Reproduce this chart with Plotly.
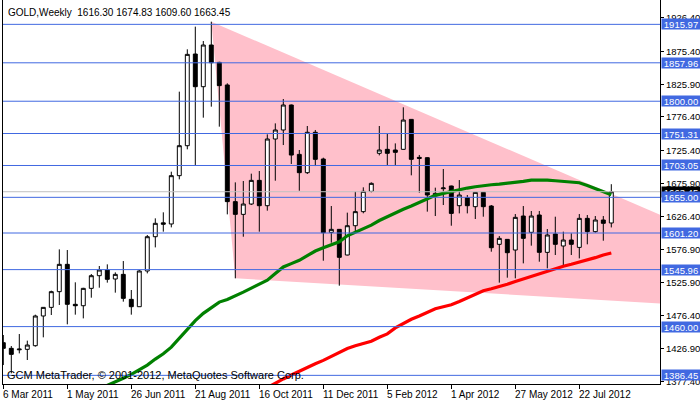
import pandas as pd
import plotly.graph_objects as go

# ---------------- data ----------------
symbol_title = "GOLD,Weekly  1616.30 1674.83 1609.60 1663.45"
copyright_text = "GCM MetaTrader, © 2001-2012, MetaQuotes Software Corp."

first_bar = "2011-03-06"

opens = [1435.7, 1427.2, 1425.0, 1425.7, 1431.2, 1476.0, 1489.0, 1512.7, 1553.9, 1493.6,
         1491.5, 1517.7, 1536.8, 1545.4, 1531.8, 1538.8, 1501.1, 1490.0, 1543.9, 1595.6,
         1616.5, 1614.8, 1687.7, 1732.9, 1871.2, 1821.9, 1884.8, 1858.6, 1824.5, 1648.5,
         1629.3, 1644.9, 1680.6, 1642.4, 1743.0, 1756.6, 1794.3, 1719.8, 1692.2, 1753.1,
         1712.8, 1602.2, 1606.7, 1568.0, 1612.2, 1633.4, 1664.0, 1721.4, 1727.4, 1726.4,
         1727.4, 1772.6, 1715.3, 1714.8, 1657.0, 1668.0, 1672.1, 1642.4, 1654.5, 1640.9,
         1662.5, 1641.9, 1584.1, 1591.6, 1575.5, 1626.8, 1602.2, 1628.3, 1572.0, 1599.7,
         1581.6, 1590.6, 1579.5, 1623.3, 1603.2, 1620.8, 1616.30]
highs = [1447.3, 1430.7, 1448.8, 1438.8, 1478.0, 1489.5, 1514.2, 1576.5, 1575.5, 1526.8,
         1518.5, 1539.3, 1551.4, 1553.9, 1541.8, 1558.9, 1515.2, 1545.4, 1598.2, 1623.3,
         1632.4, 1693.7, 1814.4, 1878.3, 1912.5, 1890.8, 1920.0, 1859.5, 1827.0, 1677.6,
         1679.6, 1690.7, 1694.7, 1750.0, 1766.6, 1803.3, 1795.0, 1726.4, 1762.6, 1756.6,
         1714.8, 1641.9, 1607.2, 1631.9, 1663.5, 1670.1, 1677.6, 1762.6, 1751.5, 1736.4,
         1790.8, 1773.0, 1718.9, 1715.5, 1669.6, 1697.7, 1672.6, 1681.1, 1658.5, 1663.0,
         1663.0, 1643.4, 1596.6, 1592.0, 1629.8, 1641.9, 1634.4, 1634.4, 1607.2, 1625.8,
         1603.2, 1600.7, 1629.8, 1628.3, 1626.8, 1626.8, 1674.83]
lows = [1402.0, 1389.5, 1419.6, 1409.6, 1429.7, 1443.8, 1477.5, 1492.6, 1463.4, 1478.0,
        1472.4, 1503.6, 1518.7, 1526.3, 1511.2, 1497.6, 1478.0, 1490.0, 1540.3, 1579.5,
        1603.2, 1609.7, 1682.1, 1727.4, 1703.8, 1775.2, 1791.8, 1761.6, 1629.3, 1532.8,
        1595.6, 1643.4, 1603.2, 1634.9, 1680.1, 1733.9, 1705.3, 1665.0, 1690.2, 1702.2,
        1559.4, 1586.6, 1521.7, 1567.5, 1604.2, 1630.9, 1662.5, 1718.3, 1703.8, 1703.8,
        1727.0, 1688.2, 1662.0, 1633.4, 1626.8, 1643.4, 1612.2, 1630.8, 1630.8, 1622.3,
        1625.8, 1573.0, 1526.3, 1533.8, 1532.8, 1555.4, 1582.1, 1557.9, 1547.9, 1568.0,
        1552.9, 1568.0, 1562.9, 1584.1, 1601.7, 1589.6, 1609.60]
closes = [1427.2, 1418.1, 1426.0, 1432.2, 1476.0, 1489.0, 1512.7, 1553.9, 1493.6, 1491.5,
          1517.7, 1536.8, 1545.4, 1531.3, 1538.8, 1502.6, 1490.0, 1543.9, 1595.6, 1615.8,
          1614.5, 1687.7, 1732.9, 1870.7, 1821.9, 1884.8, 1858.1, 1823.5, 1648.5, 1629.3,
          1644.9, 1680.6, 1642.4, 1743.0, 1756.6, 1794.3, 1718.8, 1692.2, 1753.1, 1712.3,
          1601.7, 1606.7, 1564.5, 1612.2, 1633.4, 1664.0, 1676.1, 1726.4, 1721.4, 1722.9,
          1771.6, 1712.3, 1713.8, 1658.5, 1661.0, 1669.1, 1630.8, 1658.5, 1642.4, 1662.5,
          1640.9, 1579.0, 1593.1, 1571.5, 1624.8, 1593.1, 1626.8, 1572.0, 1598.2, 1584.1,
          1590.6, 1584.1, 1623.3, 1603.2, 1620.8, 1615.8, 1663.45]

green_ma = [None] * 12 + [
    1366, 1371, 1377, 1382, 1388, 1395, 1402, 1411, 1419, 1429, 1442, 1456, 1469, 1480,
    1488, 1497, 1501, 1506, 1512, 1518, 1524, 1530, 1540, 1550, 1555, 1560, 1567, 1574,
    1579, 1584, 1588, 1597, 1602, 1607, 1613, 1620, 1626, 1631, 1637, 1642, 1647, 1653,
    1658, 1661, 1664, 1667, 1669, 1671, 1673, 1674, 1675, 1676, 1677, 1679, 1681, 1681.5,
    1681, 1680, 1679, 1678, 1677, 1673, 1668, 1663, 1659]
red_ma = [None] * 33 + [
    1368, 1375, 1381, 1387, 1393, 1399, 1404, 1409, 1415, 1421, 1427, 1431, 1435, 1438,
    1444, 1449, 1458, 1465, 1471, 1476, 1482, 1487, 1490, 1493, 1498, 1503, 1509, 1514,
    1517, 1520, 1524, 1528, 1532, 1536, 1540, 1544, 1548, 1551, 1554, 1557, 1560, 1564,
    1568, 1571]

level_prices = [1915.97, 1857.96, 1800.00, 1751.31, 1703.05, 1655.00, 1601.20, 1545.96, 1460.00, 1386.45]
level_labels = ["1915.97", "1857.96", "1800.00", "1751.31", "1703.05", "1655.00", "1601.20", "1545.96", "1460.00", "1386.45"]
last_price = 1663.45
last_label = "1663.45"

triangle_times = ["2011-09-04", "2011-09-25", "2013-04-28"]
triangle_prices = [1920.0, 1532.8, 1473.5]

y_tick_values = [1926.40, 1875.40, 1825.90, 1776.40, 1725.40, 1675.90, 1626.40, 1576.90, 1525.90, 1476.40, 1426.90, 1377.40]
y_tick_labels = ["1926.40", "1875.40", "1825.90", "1776.40", "1725.40", "1675.90", "1626.40", "1576.90", "1525.90", "1476.40", "1426.90", "1377.40"]

x_tick_dates = ["2011-03-06", "2011-05-01", "2011-06-26", "2011-08-21", "2011-10-16",
                "2011-12-11", "2012-02-05", "2012-04-01", "2012-05-27", "2012-07-22"]
x_tick_labels = ["6 Mar 2011", "1 May 2011", "26 Jun 2011", "21 Aug 2011", "16 Oct 2011",
                 "11 Dec 2011", "5 Feb 2012", "1 Apr 2012", "27 May 2012", "22 Jul 2012"]

# ---------------- figure ----------------
FONT = "Liberation Sans, Arial, sans-serif"
BLUE = "#4169E1"

bar_dates = pd.date_range(first_bar, periods=len(opens), freq="7D")
t0 = pd.Timestamp(first_bar)
x_range = [t0 - pd.Timedelta(hours=6.3), t0 + pd.Timedelta(days=574.6)]

fig = go.Figure()

fig.add_trace(go.Candlestick(
    x=bar_dates, open=opens, high=highs, low=lows, close=closes,
    increasing=dict(fillcolor="#FFFFFF", line=dict(color="#000000", width=1)),
    decreasing=dict(fillcolor="#000000", line=dict(color="#000000", width=1)),
    whiskerwidth=0, showlegend=False))

fig.add_trace(go.Scatter(x=bar_dates, y=green_ma, mode="lines",
                         line=dict(color="#008000", width=3.2), showlegend=False))
fig.add_trace(go.Scatter(x=bar_dates, y=red_ma, mode="lines",
                         line=dict(color="#FF0000", width=3.2), showlegend=False))

tri_path = "M " + " L ".join(f"{t},{p}" for t, p in zip(triangle_times, triangle_prices)) + " Z"
shapes = [dict(type="path", xref="x", yref="y", path=tri_path, fillcolor="#FFC0CB",
               line=dict(width=0), layer="below")]
shapes.append(dict(type="line", xref="paper", x0=0, x1=1, yref="y", y0=last_price, y1=last_price,
                   line=dict(color="#C0C0C0", width=1), layer="above"))
for p in level_prices:
    shapes.append(dict(type="line", xref="paper", x0=0, x1=1, yref="y", y0=p, y1=p,
                       line=dict(color=BLUE, width=1), layer="above"))

annotations = [
    dict(text=symbol_title, xref="paper", yref="paper", x=0, y=1, xanchor="left", yanchor="top",
         xshift=3, yshift=-5, showarrow=False, font=dict(family=FONT, size=10, color="#000000")),
    dict(text=copyright_text, xref="paper", yref="paper", x=0, y=0, xanchor="left", yanchor="bottom",
         xshift=2, yshift=1, showarrow=False, font=dict(family=FONT, size=11, color="#000000")),
]
for v, lab in zip(y_tick_values, y_tick_labels):
    annotations.append(dict(text=lab, xref="paper", yref="y", x=1, y=v, xanchor="left",
                            yanchor="middle", xshift=4, showarrow=False,
                            font=dict(family=FONT, size=9.5, color="#000000")))
annotations.append(dict(text=last_label, xref="paper", yref="y", x=1, y=last_price, xanchor="left",
                        yanchor="middle", xshift=1, showarrow=False, bgcolor="#000000",
                        width=38, height=10, borderpad=0,
                        font=dict(family=FONT, size=9.5, color="#FFFFFF")))
for p, lab in zip(level_prices, level_labels):
    annotations.append(dict(text=lab, xref="paper", yref="y", x=1, y=p, xanchor="left",
                            yanchor="middle", xshift=1, showarrow=False, bgcolor=BLUE,
                            width=38, height=10, borderpad=0,
                            font=dict(family=FONT, size=9.5, color="#FFFFFF")))
for d, lab in zip(x_tick_dates, x_tick_labels):
    annotations.append(dict(text=lab, xref="x", yref="paper", x=d, y=0, xanchor="left",
                            yanchor="top", xshift=-2, yshift=-3, showarrow=False,
                            font=dict(family=FONT, size=10, color="#000000")))

fig.update_layout(
    width=700, height=402,
    margin=dict(l=3, r=40, t=0, b=18, autoexpand=False),
    paper_bgcolor="#FFFFFF", plot_bgcolor="#FFFFFF",
    showlegend=False,
    shapes=shapes, annotations=annotations,
    xaxis=dict(type="date", range=x_range, rangeslider=dict(visible=False), automargin=False,
               showgrid=False, zeroline=False, showline=True, linecolor="#000000", linewidth=1,
               ticks="outside", ticklen=4, tickcolor="#000000", tickvals=x_tick_dates,
               showticklabels=False, fixedrange=True),
    yaxis=dict(side="right", range=[1373.4, 1952.7], showgrid=False, zeroline=False,
               automargin=False, showline=True, mirror=True, linecolor="#000000", linewidth=1,
               ticks="outside", ticklen=3, tickcolor="#000000",
               tickvals=y_tick_values, showticklabels=False, fixedrange=True),
)

fig.write_html("out.html", config={"displayModeBar": False},
               post_script="document.body.style.margin='0';")
